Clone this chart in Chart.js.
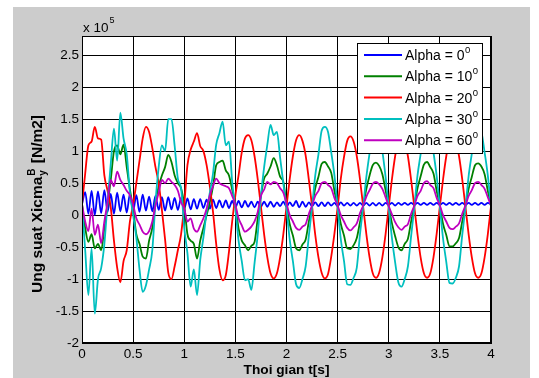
<!DOCTYPE html>
<html>
<head>
<meta charset="utf-8">
<script src="https://cdn.jsdelivr.net/npm/chart.js@4.4.1/dist/chart.umd.min.js"></script>
<style>
  html, body { margin: 0; padding: 0; background: #fff; }
  canvas { display: block; }
</style>
</head>
<body>
<canvas id="myChart" width="539" height="378"></canvas>
<script>
// sample step of the signals [s]
const dt = 1 / 32

const alphas = [0, 10, 20, 30, 60]
const lineColors = ["#0000ff", "#008000", "#ff0000", "#00bfbf", "#bf00bf"]
const xTicks = [0, 0.5, 1, 1.5, 2, 2.5, 3, 3.5, 4]
const yTicks = [-2, -1.5, -1, -0.5, 0, 0.5, 1, 1.5, 2, 2.5]

// stress values, x 10^5 N/m2, one value every dt
const alpha0 = [0.17, 0.36, 0.02, 0.38, 0.00, 0.37, 0.03, 0.39, 0.05, 0.33, 0.02, 0.35, 0.06, 0.32, 0.04, 0.33,
  0.06, 0.31, 0.05, 0.32, 0.07, 0.29, 0.06, 0.30, 0.08, 0.28, 0.07, 0.28, 0.09, 0.27, 0.08, 0.27,
  0.10, 0.26, 0.09, 0.25, 0.10, 0.25, 0.11, 0.24, 0.10, 0.24, 0.11, 0.23, 0.12, 0.23, 0.11, 0.22,
  0.12, 0.22, 0.12, 0.22, 0.13, 0.21, 0.12, 0.21, 0.13, 0.21, 0.13, 0.21, 0.13, 0.20, 0.14, 0.21,
  0.13, 0.20, 0.14, 0.22, 0.12, 0.21, 0.13, 0.20, 0.14, 0.20, 0.14, 0.20, 0.14, 0.20, 0.15, 0.19,
  0.14, 0.20, 0.15, 0.19, 0.15, 0.19, 0.15, 0.19, 0.15, 0.19, 0.15, 0.19, 0.15, 0.19, 0.15, 0.19,
  0.16, 0.19, 0.15, 0.19, 0.16, 0.19, 0.16, 0.19, 0.16, 0.19, 0.16, 0.19, 0.16, 0.19, 0.16, 0.19,
  0.16, 0.19, 0.16, 0.19, 0.16, 0.19, 0.16, 0.19, 0.16, 0.19, 0.16, 0.19, 0.16, 0.19, 0.16, 0.19,
  0.17]

const alpha10 = [0.17, -0.20, -0.42, -0.30, -0.52, -0.45, -0.55, -0.20, 0.15, 0.55, 1.00, 1.09, 0.95, 1.10, 0.75, 0.40,
  0.10, -0.30, -0.45, -0.65, -0.68, -0.40, -0.20, 0.20, 0.45, 0.62, 0.75, 0.94, 0.83, 0.62, 0.50, 0.42,
  0.16, -0.30, -0.40, -0.45, -0.68, -0.40, -0.20, 0.00, 0.20, 0.45, 0.78, 0.83, 0.85, 0.70, 0.62, 0.40,
  0.16, -0.21, -0.40, -0.47, -0.55, -0.48, -0.42, -0.05, 0.30, 0.57, 0.65, 0.76, 0.89, 0.78, 0.60, 0.52,
  0.16, -0.14, -0.32, -0.52,
  -0.55, -0.46, -0.38, -0.10, 0.14, 0.42, 0.60, 0.80, 0.83, 0.76, 0.66, 0.38, 0.14, -0.14, -0.32, -0.52,
  -0.53, -0.47, -0.36, -0.11, 0.14, 0.41, 0.62, 0.78, 0.82, 0.77, 0.64, 0.39, 0.13, -0.13, -0.33, -0.50,
  -0.55, -0.45, -0.37, -0.10, 0.14, 0.42, 0.61, 0.79, 0.83, 0.75, 0.65, 0.38, 0.14, -0.14, -0.31, -0.49,
  -0.49, -0.44, -0.36, -0.10, 0.14, 0.41, 0.60, 0.78, 0.81, 0.76, 0.64, 0.38, 0.14]

const alpha20 = [0.17, 0.65, 1.09, 1.15, 1.38, 1.20, 1.18, 0.62, 0.38, 0.12, -0.40, -0.82, -1.05, -0.72, -0.55, -0.10,
  0.16, 0.50, 0.85, 1.20, 1.38, 1.30, 1.05, 0.75, 0.50, 0.08, -0.38, -0.90, -1.00, -0.80, -0.55, -0.30,
  0.16, 0.78, 1.02, 1.15, 1.28, 1.08, 1.00, 0.78, 0.45, 0.05, -0.45, -0.85, -1.02, -0.94, -0.57, -0.10,
  0.31, 0.62, 0.98, 1.20, 1.25,
  1.17, 0.92, 0.56, 0.13, -0.30, -0.66, -0.91, -0.99, -0.91, -0.66, -0.30, 0.13, 0.56, 0.92, 1.17,
  1.25, 1.16, 0.93, 0.55, 0.14, -0.31, -0.66, -0.90, -0.99, -0.92, -0.65, -0.29, 0.12, 0.57, 0.91, 1.16,
  1.23, 1.15, 0.92, 0.56, 0.13, -0.30, -0.66, -0.91, -0.98, -0.90, -0.66, -0.30, 0.13, 0.56, 0.92, 1.17,
  1.24, 1.16, 0.92, 0.55, 0.13, -0.30, -0.67, -0.91, -0.98, -0.91, -0.66, -0.29, 0.14, 0.56, 0.92, 1.17,
  1.24, 1.16, 0.92, 0.56, 0.13, -0.30, -0.66, -0.91, -0.98, -0.91, -0.66, -0.30, 0.14]

const alpha30 = [0.17, -0.55, -1.25, -0.52, -1.54, -1.00, -0.83, -0.45, 0.20, 0.80, 1.35, 0.85, 1.60, 1.20, 0.95, 0.35,
  0.00, -0.35, -0.85, -1.20, -1.10, -0.85, -0.55, 0.20, 0.75, 1.09, 1.00, 1.50, 1.50, 1.08, 0.57, 0.42,
  -0.20, -0.60, -1.12, -0.85, -1.25, -0.70, -0.35, 0.05, 0.35, 0.65, 1.10, 1.28, 1.46, 1.09, 1.15, 0.52,
  0.10, -0.40, -0.72, -1.02, -1.00, -1.17, -0.75, -0.30, 0.30, 0.75, 1.10, 1.41, 1.25, 1.30, 0.90, 0.50,
  0.10, -0.38, -0.72, -1.08,
  -1.14, -1.00, -0.80, -0.32, 0.12, 0.62, 0.95, 1.32, 1.38, 1.30, 0.98, 0.62, 0.12, -0.38, -0.72, -1.08,
  -1.09, -0.98, -0.82, -0.30, 0.13, 0.60, 0.97, 1.30, 1.36, 1.28, 1.00, 0.60, 0.12, -0.36, -0.74, -1.05,
  -1.12, -1.00, -0.80, -0.33, 0.12, 0.62, 0.96, 1.31, 1.37, 1.30, 0.98, 0.61, 0.12, -0.37, -0.73, -1.06,
  -1.07, -0.98, -0.80, -0.31, 0.12, 0.61, 0.96, 1.30, 1.36, 1.30, 0.98, 0.62, 0.12]

const alpha60 = [0.17, -0.10, -0.25, 0.10, -0.31, -0.15, -0.44, -0.10, 0.20, 0.55, 0.45, 0.68, 0.55, 0.47, 0.38, 0.31,
  0.16, -0.05, -0.15, -0.26, -0.30, -0.25, -0.10, 0.15, 0.35, 0.55, 0.50, 0.57, 0.52, 0.47, 0.38, 0.20,
  0.10, -0.10, -0.05, -0.21, -0.26, -0.16, -0.05, 0.10, 0.31, 0.45, 0.57, 0.50, 0.47, 0.45, 0.42, 0.30,
  0.16, -0.05, -0.16, -0.26, -0.23, -0.18, -0.10, 0.05, 0.30, 0.40, 0.52, 0.48, 0.52, 0.50, 0.42, 0.35,
  0.18, 0.00, -0.10, -0.20,
  -0.23, -0.18, -0.14, 0.02, 0.15, 0.30, 0.38, 0.50, 0.52, 0.47, 0.42, 0.27, 0.15, 0.00, -0.10, -0.20,
  -0.24, -0.19, -0.13, 0.03, 0.15, 0.29, 0.39, 0.49, 0.52, 0.48, 0.41, 0.28, 0.14, 0.01, -0.11, -0.19,
  -0.23, -0.18, -0.14, 0.02, 0.15, 0.30, 0.38, 0.50, 0.53, 0.47, 0.42, 0.27, 0.15, 0.00, -0.10, -0.20,
  -0.22, -0.18, -0.13, 0.02, 0.15, 0.30, 0.39, 0.50, 0.52, 0.47, 0.41, 0.28, 0.15]

const seriesValues = [alpha0, alpha10, alpha20, alpha30, alpha60]

const FONT = "'Liberation Sans', Arial, Helvetica, sans-serif"

function toPoints(vals){
  return vals.map((v, k) => ({ x: k * dt, y: v }))
}

// figure background, box, legend and the texts with super/subscripts
const matlabFrame = {
  id: 'matlabFrame',
  beforeDraw(chart){
    const ctx = chart.ctx
    const a = chart.chartArea
    ctx.save()
    ctx.fillStyle = '#ffffff'
    ctx.fillRect(0, 0, chart.width, chart.height)
    ctx.fillStyle = '#cccccc'
    ctx.fillRect(13, 7, 517, 371)
    ctx.fillStyle = '#ffffff'
    ctx.fillRect(a.left, a.top, a.right - a.left, a.bottom - a.top)
    ctx.restore()
  },
  afterDraw(chart){
    const ctx = chart.ctx
    const a = chart.chartArea
    ctx.save()

    // axes box
    ctx.strokeStyle = '#000'
    ctx.lineWidth = 1
    ctx.strokeRect(a.left + 0.5, a.top + 0.5, a.right - a.left - 1, a.bottom - a.top - 1)

    // exponent above the y axis
    ctx.fillStyle = '#000'
    ctx.textAlign = 'left'
    ctx.textBaseline = 'alphabetic'
    ctx.font = '13.5px ' + FONT
    ctx.fillText('x 10', 83, 32)
    const w10 = ctx.measureText('x 10').width
    ctx.font = '9px ' + FONT
    ctx.fillText('5', 83 + w10 + 1, 23)

    // x title
    ctx.font = 'bold 13.7px ' + FONT
    ctx.textAlign = 'center'
    ctx.fillText('Thoi gian t[s]', (a.left + a.right) / 2, 374)

    // y title, rotated
    ctx.save()
    ctx.translate(42, 293)
    ctx.rotate(-Math.PI / 2)
    ctx.textAlign = 'left'
    ctx.font = 'bold 15.5px ' + FONT
    const main = 'Ung suat Xicma'
    ctx.fillText(main, 0, 0)
    let wx = ctx.measureText(main).width
    ctx.font = 'bold 10px ' + FONT
    ctx.fillText('B', wx + 1, -7)
    const wb = Math.max(ctx.measureText('B').width, ctx.measureText('y').width)
    ctx.fillText('y', wx + 1, 4)
    ctx.font = 'bold 15.5px ' + FONT
    ctx.fillText(' [N/m2]', wx + wb + 2, 0)
    ctx.restore()

    // legend
    const lx = 357, ly = 43, lw = 125, lh = 110
    ctx.fillStyle = '#fff'
    ctx.fillRect(lx, ly, lw, lh)
    ctx.strokeStyle = '#000'
    ctx.lineWidth = 1
    ctx.strokeRect(lx + 0.5, ly + 0.5, lw, lh)
    chart.data.datasets.forEach((ds, i) => {
      const cy = 55 + i * 21.3
      ctx.strokeStyle = ds.borderColor
      ctx.lineWidth = 2
      ctx.beginPath()
      ctx.moveTo(364, cy)
      ctx.lineTo(402, cy)
      ctx.stroke()
      ctx.fillStyle = '#000'
      ctx.textAlign = 'left'
      ctx.font = '14px ' + FONT
      const txt = 'Alpha = ' + alphas[i]
      ctx.fillText(txt, 405, cy + 5)
      const tw = ctx.measureText(txt).width
      ctx.font = '9.5px ' + FONT
      ctx.fillText('0', 405 + tw + 0.5, cy - 2)
    })
    ctx.restore()
  }
}

new Chart("myChart", {
  type: "line",
  data: {
    datasets: seriesValues.map((vals, i) => ({
      label: 'Alpha = ' + alphas[i],
      data: toPoints(vals),
      borderColor: lineColors[i],
      backgroundColor: lineColors[i],
      borderWidth: 1.8,
      pointRadius: 0,
      cubicInterpolationMode: 'monotone',
      fill: false,
      order: seriesValues.length - i
    }))
  },
  options: {
    responsive: false,
    animation: false,
    events: [],
    layout: { padding: { top: 36, right: 48, left: 0, bottom: 0 } },
    plugins: {
      legend: { display: false },
      tooltip: { enabled: false }
    },
    scales: {
      x: {
        type: 'linear',
        min: 0,
        max: 4,
        afterBuildTicks: s => { s.ticks = xTicks.map(v => ({ value: v })) },
        afterFit: s => { s.height = 35 },
        ticks: {
          color: '#000',
          font: { family: FONT, size: 13.5 },
          padding: 3,
          maxRotation: 0,
          autoSkip: false,
          callback: v => String(Math.round(v * 10) / 10)
        },
        grid: { color: '#000', lineWidth: 1, drawTicks: false },
        border: { color: '#000' }
      },
      y: {
        min: -2,
        max: 2.8,
        afterBuildTicks: s => { s.ticks = yTicks.map(v => ({ value: v })) },
        afterFit: s => { s.width = 82 },
        ticks: {
          color: '#000',
          font: { family: FONT, size: 13.5 },
          padding: 3,
          autoSkip: false,
          callback: v => String(Math.round(v * 10) / 10)
        },
        grid: { color: '#000', lineWidth: 1, drawTicks: false },
        border: { color: '#000' }
      }
    }
  },
  plugins: [matlabFrame]
})
</script>
</body>
</html>
